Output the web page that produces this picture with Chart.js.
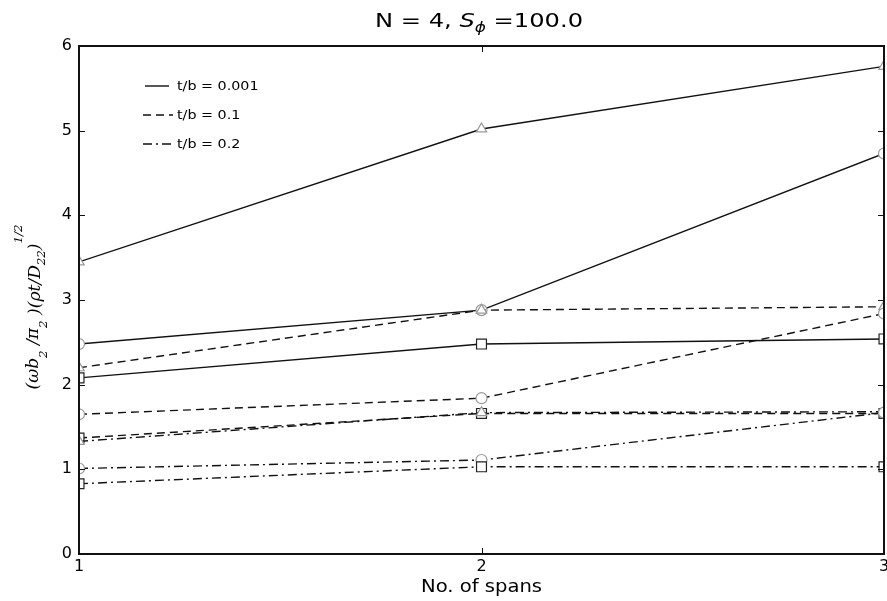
<!DOCTYPE html>
<html>
<head>
<meta charset="utf-8">
<script src="https://cdn.jsdelivr.net/npm/chart.js@4.4.0/dist/chart.umd.min.js"></script>
<style>
    html, body { margin: 0; padding: 0; background: #fff; overflow: hidden; }
    #wrap { width: 887px; height: 601px; }
</style>
</head>
<body>
<div id="wrap"><canvas id="chart" width="887" height="601"></canvas></div>
<script>
// x categories (number of spans) and y ticks
const spans = [1, 2, 3];
const yTicks = [0, 1, 2, 3, 4, 5, 6];

// t/b = 0.001 (solid lines)
const thinTri = [3.45, 5.02, 5.76];
const thinCirc = [2.48, 2.88, 4.73];
const thinSq = [2.08, 2.48, 2.54];

// t/b = 0.1 (dashed lines)
const midTri = [2.20, 2.88, 2.92];
const midCirc = [1.65, 1.84, 2.84];
const midSq = [1.37, 1.66, 1.66];

// t/b = 0.2 (dash-dot lines)
const thickTri = [1.33, 1.67, 1.68];
const thickCirc = [1.01, 1.11, 1.67];
const thickSq = [0.83, 1.03, 1.03];

const legendLabels = ['t/b = 0.001', 't/b = 0.1', 't/b = 0.2'];

const DASH = [[], [8, 5], [9, 4, 2, 4]];

function series(values, dash, marker) {
    return {
        data: values.map((v, i) => ({ x: spans[i], y: v })),
        borderColor: '#111',
        borderWidth: 1.4,
        borderDash: dash,
        pointStyle: marker,
        pointRadius: marker === 'rect' ? 7 : (marker === 'triangle' ? 6 : 5.5),
        pointBackgroundColor: '#fff',
        pointBorderColor: marker === 'rect' ? '#222' : '#999',
        pointBorderWidth: 1.2,
        tension: 0,
        fill: false,
        clip: 0
    };
}

// draw text squeezed/stretched horizontally
function stretchText(ctx, text, x, y, sx) {
    ctx.save();
    ctx.translate(x, y);
    ctx.scale(sx, 1);
    ctx.fillText(text, 0, 0);
    ctx.restore();
}

function drawRuns(ctx, runs, startX, y, sx) {
    let x = startX;
    runs.forEach(r => {
        ctx.font = r.font;
        stretchText(ctx, r.t, x, y + (r.dy || 0), sx);
        x += ctx.measureText(r.t).width * sx;
    });
}

function runsWidth(ctx, runs) {
    let w = 0;
    runs.forEach(r => { ctx.font = r.font; w += ctx.measureText(r.t).width; });
    return w;
}

const decorPlugin = {
    id: 'decor',
    afterDraw(chart) {
        const ctx = chart.ctx;
        const a = chart.chartArea;
        const xs = chart.scales.x, ys = chart.scales.y;
        ctx.save();
        ctx.fillStyle = '#000';
        ctx.textBaseline = 'alphabetic';
        ctx.textAlign = 'left';

        // frame
        ctx.strokeStyle = '#111';
        ctx.lineWidth = 2;
        ctx.strokeRect(a.left, a.top, a.right - a.left, a.bottom - a.top);

        // inward tick marks
        ctx.lineWidth = 1;
        ctx.beginPath();
        yTicks.forEach(v => {
            const py = Math.round(ys.getPixelForValue(v)) + 0.5;
            ctx.moveTo(a.left, py); ctx.lineTo(a.left + 6, py);
            ctx.moveTo(a.right, py); ctx.lineTo(a.right - 6, py);
        });
        spans.forEach(v => {
            const px = Math.round(xs.getPixelForValue(v)) + 0.5;
            ctx.moveTo(px, a.bottom); ctx.lineTo(px, a.bottom - 6);
            ctx.moveTo(px, a.top); ctx.lineTo(px, a.top + 6);
        });
        ctx.stroke();

        // title
        const titleRuns = [
            { t: 'N = 4, ', font: '20px "DejaVu Sans"' },
            { t: 'S', font: 'italic 20px "DejaVu Sans"' },
            { t: 'ϕ', font: 'italic 14px "DejaVu Sans"', dy: 5 },
            { t: ' =100.0', font: '20px "DejaVu Sans"' }
        ];
        const tw = runsWidth(ctx, titleRuns);
        const tsx = 208 / tw;
        drawRuns(ctx, titleRuns, 479 - 104, 27, tsx);

        // x axis title
        ctx.font = '17px "DejaVu Sans"';
        const xt = 'No. of spans';
        const xsx = 121 / ctx.measureText(xt).width;
        stretchText(ctx, xt, (a.left + a.right) / 2 - 60.5, 592, xsx);

        // y axis title (rotated)
        const yRuns = [
            { t: '(ωb', font: 'italic 16px "DejaVu Serif"', dy: -2 },
            { t: '2', font: 'italic 11px "DejaVu Serif"', dy: 7 },
            { t: ' /π', font: 'italic 16px "DejaVu Serif"', dy: -2 },
            { t: '2', font: 'italic 11px "DejaVu Serif"', dy: 7 },
            { t: ' )(ρt/D', font: 'italic 16px "DejaVu Serif"' },
            { t: '22', font: 'italic 11px "DejaVu Serif"', dy: 5 },
            { t: ')', font: 'italic 16px "DejaVu Serif"' },
            { t: '1/2', font: 'italic 11px "DejaVu Serif"', dy: -18 }
        ];
        const yw = runsWidth(ctx, yRuns);
        const ysx = 165 / yw;
        ctx.save();
        ctx.translate(40, 307);
        ctx.rotate(-Math.PI / 2);
        drawRuns(ctx, yRuns, -82.5, 0, ysx);
        ctx.restore();

        // legend
        const rows = [86, 115, 144];
        ctx.strokeStyle = '#111';
        ctx.lineWidth = 1.4;
        rows.forEach((ry, i) => {
            ctx.setLineDash(DASH[i]);
            ctx.beginPath();
            ctx.moveTo(i === 0 ? 145 : 143, ry);
            ctx.lineTo(i === 0 ? 169 : 173, ry);
            ctx.stroke();
        });
        ctx.setLineDash([]);
        ctx.font = '13px "DejaVu Sans"';
        ctx.textBaseline = 'middle';
        rows.forEach((ry, i) => stretchText(ctx, legendLabels[i], 177, ry + 1, 1.1));
        ctx.restore();
    }
};

new Chart(document.getElementById('chart'), {
    type: 'line',
    data: {
        datasets: [
            series(thickSq, DASH[2], 'rect'),
            series(thickCirc, DASH[2], 'circle'),
            series(thickTri, DASH[2], 'triangle'),
            series(midSq, DASH[1], 'rect'),
            series(midCirc, DASH[1], 'circle'),
            series(midTri, DASH[1], 'triangle'),
            series(thinSq, DASH[0], 'rect'),
            series(thinCirc, DASH[0], 'circle'),
            series(thinTri, DASH[0], 'triangle')
        ]
    },
    options: {
        responsive: false,
        devicePixelRatio: 1,
        animation: false,
        layout: { autoPadding: false, padding: { left: 0, right: 3, top: 46, bottom: 0 } },
        plugins: {
            legend: { display: false },
            tooltip: { enabled: false },
            title: { display: false }
        },
        scales: {
            x: {
                type: 'linear',
                min: 1,
                max: 3,
                grid: { display: false, drawTicks: false },
                border: { display: false },
                ticks: {
                    autoSkip: false,
                    maxRotation: 0,
                    padding: 3,
                    color: '#000',
                    font: { family: 'DejaVu Sans', size: 16 }
                },
                afterBuildTicks: s => { s.ticks = spans.map(v => ({ value: v })); },
                afterFit: s => { s.height = 47; s.paddingLeft = 0; s.paddingRight = 0; }
            },
            y: {
                type: 'linear',
                min: 0,
                max: 6,
                grid: { display: false, drawTicks: false },
                border: { display: false },
                ticks: {
                    padding: 7,
                    color: '#000',
                    font: { family: 'DejaVu Sans', size: 16 }
                },
                afterBuildTicks: s => { s.ticks = yTicks.map(v => ({ value: v })); },
                afterFit: s => { s.width = 79; }
            }
        }
    },
    plugins: [decorPlugin]
});
</script>
</body>
</html>
